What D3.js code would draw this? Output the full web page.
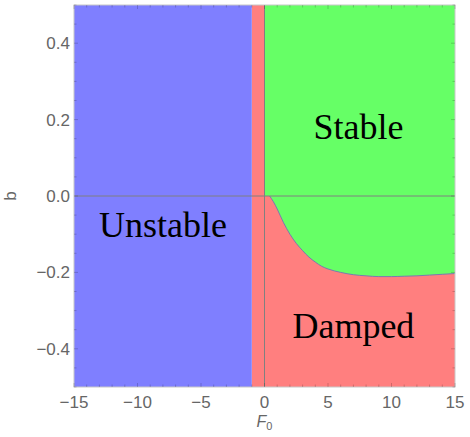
<!DOCTYPE html>
<html><head><meta charset="utf-8">
<script src="https://cdn.jsdelivr.net/npm/d3@7"></script>
<style>html,body{margin:0;padding:0;background:#fff;}</style>
</head><body>
<svg id="chart" width="470" height="437"></svg>
<script>
// ---- data ----
const xDomain = [-15, 15];
const yDomain = [-0.5, 0.5];
const xTicks = [-15, -10, -5, 0, 5, 10, 15];
const yTicks = [-0.4, -0.2, 0.0, 0.2, 0.4];
const unstableF0 = [-15, -1];      // blue region
const dampedF0 = [-1, 15];         // red region (background to the right)
// green/red boundary below b = 0 (F0 >= 0)
const curveF0 = [0, 0.4, 0.7, 1, 1.5, 2, 2.5, 3, 3.5, 4, 4.5, 5, 6, 7, 8, 9, 10, 11, 12, 13, 14, 15];
const curveB  = [0, 0, -0.015, -0.034, -0.07, -0.1, -0.124, -0.143, -0.16, -0.173, -0.184, -0.191, -0.2, -0.206, -0.209, -0.211, -0.211, -0.21, -0.209, -0.207, -0.205, -0.203];
const labels = [
  {text: "Stable",   x: 7.4,  y: 0.148},
  {text: "Unstable", x: -8.0, y: -0.107},
  {text: "Damped",   x: 7.0,  y: -0.373}
];

// ---- layout ----
const m = {l: 74, r: 15, t: 5, b: 50};
const W = 470, H = 437;
const svg = d3.select("#chart");
const x = d3.scaleLinear().domain(xDomain).range([m.l, W - m.r]);
const y = d3.scaleLinear().domain(yDomain).range([H - m.b, m.t]);

const g = svg.append("g");
// red background (damped)
g.append("rect").attr("x", x(dampedF0[0])).attr("y", y(yDomain[1]))
  .attr("width", x(dampedF0[1]) - x(dampedF0[0])).attr("height", y(yDomain[0]) - y(yDomain[1]))
  .attr("fill", "#ff7f7f");
// blue (unstable)
g.append("rect").attr("x", x(unstableF0[0])).attr("y", y(yDomain[1]))
  .attr("width", x(unstableF0[1]) - x(unstableF0[0])).attr("height", y(yDomain[0]) - y(yDomain[1]))
  .attr("fill", "#7f7fff");
// green (stable)
const pts = curveF0.map((f, i) => [f, curveB[i]]);
const area = d3.area().x(d => x(d[0])).y0(y(yDomain[1])).y1(d => y(d[1])).curve(d3.curveMonotoneX);
g.append("path").datum(pts).attr("d", area).attr("fill", "#66ff66");
// boundary curve
const line = d3.line().x(d => x(d[0])).y(d => y(d[1])).curve(d3.curveMonotoneX);
g.append("path").datum(pts.filter(d => d[0] >= 0.4)).attr("d", line)
  .attr("fill", "none").attr("stroke", "#7a7ab0").attr("stroke-width", 1);

// axis lines at 0
g.append("line").attr("x1", x(xDomain[0])).attr("x2", x(xDomain[1])).attr("y1", y(0)).attr("y2", y(0))
  .attr("stroke", "#808080").attr("stroke-width", 1);
g.append("line").attr("x1", x(0)).attr("x2", x(0)).attr("y1", y(yDomain[0])).attr("y2", y(yDomain[1]))
  .attr("stroke", "#808080").attr("stroke-width", 1);

// frame
svg.append("rect").attr("x", x(xDomain[0])).attr("y", y(yDomain[1]))
  .attr("width", x(xDomain[1]) - x(xDomain[0])).attr("height", y(yDomain[0]) - y(yDomain[1]))
  .attr("fill", "none").attr("stroke", "#c8c8c8").attr("stroke-width", 1);

// ticks (inside frame)
const tg = svg.append("g").attr("stroke", "#000").attr("stroke-opacity", 0.18);
d3.range(-15, 15.01, 1).forEach(v => {
  const len = (Math.abs(v % 5) < 1e-9) ? 4 : 2.5;
  tg.append("line").attr("x1", x(v)).attr("x2", x(v)).attr("y1", y(yDomain[0])).attr("y2", y(yDomain[0]) - len);
  tg.append("line").attr("x1", x(v)).attr("x2", x(v)).attr("y1", y(yDomain[1])).attr("y2", y(yDomain[1]) + len);
});
d3.range(-0.5, 0.5001, 0.05).forEach(v => {
  const major = Math.abs(Math.round(v * 100) % 20) < 1e-6;
  const len = major ? 4 : 2.5;
  tg.append("line").attr("y1", y(v)).attr("y2", y(v)).attr("x1", x(xDomain[0])).attr("x2", x(xDomain[0]) + len);
  tg.append("line").attr("y1", y(v)).attr("y2", y(v)).attr("x1", x(xDomain[1])).attr("x2", x(xDomain[1]) - len);
});

// tick labels
const fmtX = d => (d < 0 ? "\u2212" + Math.abs(d) : "" + d);
const fmtY = d => (d < 0 ? "\u2212" + Math.abs(d).toFixed(1) : d.toFixed(1));
svg.append("g").selectAll("text").data(xTicks).join("text")
  .attr("x", d => x(d)).attr("y", y(yDomain[0]) + 21)
  .attr("text-anchor", "middle").attr("font-family", "Liberation Sans, Arial, sans-serif")
  .attr("font-size", 17).attr("fill", "#666").text(fmtX);
svg.append("g").selectAll("text").data(yTicks).join("text")
  .attr("x", x(xDomain[0]) - 4).attr("y", d => y(d) + 6)
  .attr("text-anchor", "end").attr("font-family", "Liberation Sans, Arial, sans-serif")
  .attr("font-size", 17).attr("fill", "#666").text(fmtY);

// axis titles
const xt = svg.append("text").attr("x", x(0)).attr("y", H - 10).attr("text-anchor", "middle")
  .attr("font-family", "Liberation Sans, Arial, sans-serif").attr("font-size", 16).attr("fill", "#666");
xt.append("tspan").attr("font-style", "italic").text("F");
xt.append("tspan").attr("font-size", 11).attr("dy", 3).text("0");
svg.append("text").attr("transform", `translate(16,${y(0)}) rotate(-90)`).attr("text-anchor", "middle")
  .attr("font-family", "Liberation Sans, Arial, sans-serif").attr("font-size", 17).attr("fill", "#666").text("b");

// region labels
svg.append("g").selectAll("text").data(labels).join("text")
  .attr("x", d => x(d.x)).attr("y", d => y(d.y)).attr("text-anchor", "middle")
  .attr("font-family", "Liberation Serif, Times New Roman, serif").attr("font-size", 36)
  .attr("fill", "#000").text(d => d.text);
</script>
</body></html>
